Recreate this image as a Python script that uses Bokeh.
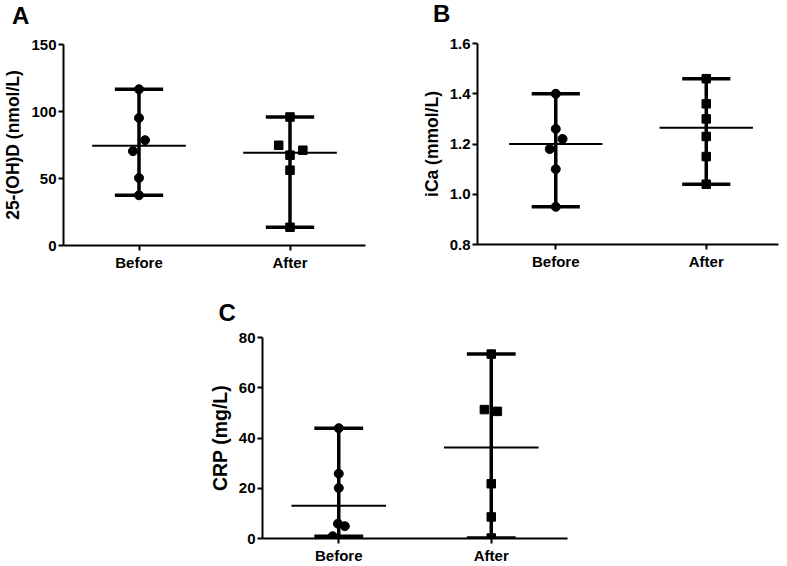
import numpy as np
from bokeh.plotting import figure
from bokeh.models import Spacer, FixedTicker, Range1d, NumeralTickFormatter, Div
from bokeh.layouts import column, row
from bokeh.embed import file_html
from bokeh.resources import INLINE

# ---- data ----
groups = ["Before", "After"]

vitd_before = [116.6, 95.2, 78.6, 70.4, 50.4, 37.5]
vitd_after = [95.9, 74.8, 71.1, 67.4, 56.2, 13.6]

ica_before = [1.40, 1.26, 1.22, 1.18, 1.10, 0.95]
ica_after = [1.46, 1.36, 1.30, 1.23, 1.15, 1.04]

crp_before = [43.9, 25.8, 20.1, 5.9, 4.9, 0.9]
crp_after = [73.4, 51.3, 50.6, 21.8, 8.6, 0.2]

vitd_ticks = [0, 50, 100, 150]
ica_ticks = [0.8, 1.0, 1.2, 1.4, 1.6]
crp_ticks = [0, 20, 40, 60, 80]

# horizontal scatter of overlapping points (fraction of group spacing)
jit_vitd_before = [0, 0, 0.04, -0.04, 0, 0]
jit_vitd_after = [0, -0.075, 0.085, 0, 0, 0]
jit_ica_before = [0, 0, 0.045, -0.04, 0, 0]
jit_ica_after = [0, 0, 0, 0, 0, 0]
jit_crp_before = [0, 0, 0, -0.005, 0.04, -0.04]
jit_crp_after = [0, -0.045, 0.04, 0, 0, 0]

FONT = "Liberation Sans"


def make_panel(before, after, jb, ja, ylabel, ticks, yr, xr, fmt,
               width, height, mb, label_size, title=None, title_offset=0,
               title_standoff=10):
    p = figure(width=width, height=height, output_backend="svg",
               toolbar_location=None, x_range=Range1d(*xr), y_range=Range1d(*yr),
               min_border_left=mb[0], min_border_right=mb[1],
               min_border_top=mb[2], min_border_bottom=mb[3])
    p.outline_line_color = None
    p.grid.visible = False
    p.background_fill_color = "white"
    p.border_fill_color = "white"

    if title:
        p.title.text = title
        p.title.text_font = FONT
        p.title.text_font_style = "bold"
        p.title.text_font_size = "24px"
        p.title.text_color = "black"
        p.title.align = "left"
        p.title.offset = title_offset
        p.title.standoff = title_standoff

    for ax in (p.xaxis[0], p.yaxis[0]):
        ax.axis_line_width = 2
        ax.axis_line_color = "black"
        ax.major_tick_line_width = 2
        ax.major_tick_line_color = "black"
        ax.major_tick_out = 5
        ax.major_tick_in = 0
        ax.minor_tick_line_color = None
        ax.major_label_text_font = FONT
        ax.major_label_text_font_style = "bold"
        ax.major_label_text_color = "black"
        ax.major_label_text_font_size = "15px"
        ax.major_label_standoff = 2

    p.xaxis.ticker = FixedTicker(ticks=[1, 2])
    p.xaxis.major_label_overrides = {1: groups[0], 2: groups[1]}
    p.xaxis.major_label_standoff = 3
    p.yaxis.ticker = FixedTicker(ticks=ticks)
    p.yaxis.formatter = NumeralTickFormatter(format=fmt)
    p.yaxis.axis_label = ylabel
    p.yaxis.axis_label_text_font = FONT
    p.yaxis.axis_label_text_font_style = "bold"
    p.yaxis.axis_label_text_font_size = label_size
    p.yaxis.axis_label_text_color = "black"
    p.yaxis.axis_label_standoff = 5

    for xc, vals, jit, marker in ((1, before, jb, "circle"), (2, after, ja, "square")):
        v = np.asarray(vals, dtype=float)
        lo, hi, med = v.min(), v.max(), float(np.median(v))
        # range bar with caps
        p.segment(x0=[xc], y0=[lo], x1=[xc], y1=[hi], line_width=3.5, line_color="black")
        p.segment(x0=[xc - 0.16, xc - 0.16], y0=[lo, hi], x1=[xc + 0.16, xc + 0.16],
                  y1=[lo, hi], line_width=3.5, line_color="black")
        # median
        p.segment(x0=[xc - 0.31], y0=[med], x1=[xc + 0.31], y1=[med],
                  line_width=2, line_color="black")
        xs = [xc + j for j in jit]
        p.scatter(xs, list(v), marker=marker, size=9 if marker == "circle" else 8.5,
                  fill_color="black", line_color="black")
    return p


def letter_div(letter, width, left, top):
    html = ('<div style="position:absolute;left:%dpx;top:%.1fpx;'
            'font-family:\'Liberation Sans\';font-size:24px;font-weight:bold;'
            'line-height:24px;color:black;">%s</div>' % (left, top, letter))
    return Div(text=html, width=width, height=26, margin=0,
               styles={"position": "relative", "overflow": "visible"})


HEAD = 26
pA = make_panel(vitd_before, vitd_after, jit_vitd_before, jit_vitd_after,
                "25-(OH)D (nmol/L)", vitd_ticks, (0, 150), (0.5, 2.5), "0",
                390, 273 - HEAD, (62, 25, 44 - HEAD, 28), "17.5px")
pB = make_panel(ica_before, ica_after, jit_ica_before, jit_ica_after,
                "iCa (mmol/L)", ica_ticks, (0.8, 1.6), (0.48, 2.48), "0.0",
                397, 273 - HEAD, (87, 9, 43 - HEAD, 29), "17.5px")
pC = make_panel(crp_before, crp_after, jit_crp_before, jit_crp_after,
                "CRP (mg/L)", crp_ticks, (0, 80), (0.5, 2.5), "0",
                380, 293, (62, 13, 64, 28), "19.5px", title="C",
                title_offset=-44, title_standoff=24)

layout = column(
    row(column(letter_div("A", 390, 12, 3.6), pA),
        column(letter_div("B", 397, 43, 2.0), pB)),
    row(Spacer(width=200, height=293), pC),
)

open("out.html", "w").write(file_html(layout, INLINE))
